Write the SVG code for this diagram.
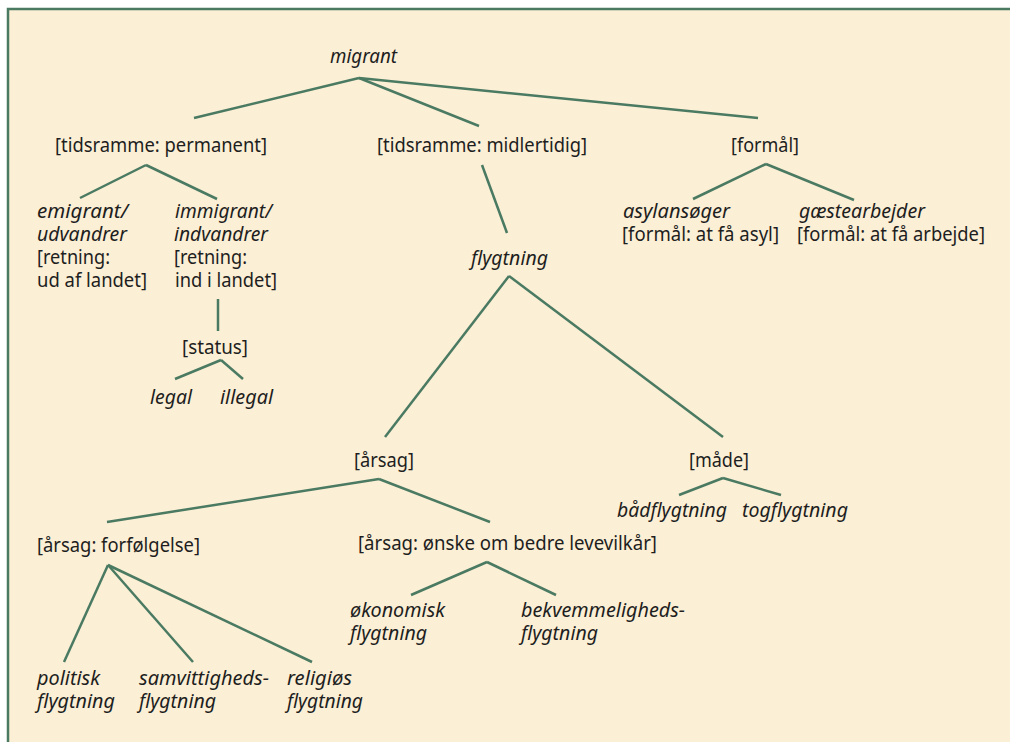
<svg xmlns="http://www.w3.org/2000/svg" width="1010" height="742" viewBox="0 0 1010 742">
<style>
text{font-family:"Noto Sans","Open Sans","DejaVu Sans",sans-serif;font-size:20px;fill:#1e1e1e}
.i{font-style:italic}
.c line{stroke:#4a7a62;stroke-width:2.5;stroke-linecap:butt}
</style>
<rect x="0" y="0" width="1010" height="742" fill="#ffffff"/>
<rect x="8" y="9" width="1010" height="740" fill="#fbefd5" stroke="#4a7a62" stroke-width="2.5"/>
<g class="c" id="connectors">
<line x1="359" y1="78" x2="194" y2="118"/>
<line x1="359" y1="78" x2="479" y2="126"/>
<line x1="359" y1="78" x2="758" y2="118"/>
<line x1="146" y1="165" x2="80" y2="198"/>
<line x1="146" y1="165" x2="217" y2="199"/>
<line x1="218" y1="299" x2="218" y2="331"/>
<line x1="221" y1="360" x2="175" y2="379"/>
<line x1="221" y1="360" x2="243" y2="379"/>
<line x1="482" y1="165" x2="507" y2="233"/>
<line x1="766" y1="164" x2="693" y2="199"/>
<line x1="766" y1="164" x2="854" y2="200"/>
<line x1="509" y1="276" x2="385" y2="437"/>
<line x1="509" y1="276" x2="723" y2="437"/>
<line x1="379" y1="479" x2="107" y2="522"/>
<line x1="379" y1="479" x2="490" y2="522"/>
<line x1="723" y1="478" x2="679" y2="495"/>
<line x1="723" y1="478" x2="781" y2="495"/>
<line x1="108" y1="565" x2="64" y2="662"/>
<line x1="108" y1="565" x2="193" y2="662"/>
<line x1="108" y1="565" x2="312" y2="662"/>
<line x1="487" y1="562" x2="411" y2="595"/>
<line x1="487" y1="562" x2="556" y2="595"/>
</g>
<g id="migrant"><text class="i" x="330" y="63" textLength="67" lengthAdjust="spacingAndGlyphs">migrant</text></g>
<g id="permanent"><text x="55" y="152" textLength="212" lengthAdjust="spacingAndGlyphs">[tidsramme: permanent]</text></g>
<g id="midlertidig"><text x="377" y="152" textLength="210" lengthAdjust="spacingAndGlyphs">[tidsramme: midlertidig]</text></g>
<g id="formaal"><text x="731" y="152" textLength="68" lengthAdjust="spacingAndGlyphs">[formål]</text></g>
<g id="emigrant">
<text class="i" x="37" y="218" textLength="91" lengthAdjust="spacingAndGlyphs">emigrant/</text>
<text class="i" x="37" y="241" textLength="90" lengthAdjust="spacingAndGlyphs">udvandrer</text>
<text x="37" y="264" textLength="73" lengthAdjust="spacingAndGlyphs">[retning:</text>
<text x="37" y="287" textLength="110" lengthAdjust="spacingAndGlyphs">ud af landet]</text>
</g>
<g id="immigrant">
<text class="i" x="175" y="218" textLength="97" lengthAdjust="spacingAndGlyphs">immigrant/</text>
<text class="i" x="174" y="241" textLength="94" lengthAdjust="spacingAndGlyphs">indvandrer</text>
<text x="174" y="264" textLength="73" lengthAdjust="spacingAndGlyphs">[retning:</text>
<text x="175" y="287" textLength="102" lengthAdjust="spacingAndGlyphs">ind i landet]</text>
</g>
<g id="status"><text x="182" y="354" textLength="66" lengthAdjust="spacingAndGlyphs">[status]</text></g>
<g id="legal"><text class="i" x="150" y="404" textLength="42" lengthAdjust="spacingAndGlyphs">legal</text></g>
<g id="illegal"><text class="i" x="220" y="404" textLength="53" lengthAdjust="spacingAndGlyphs">illegal</text></g>
<g id="asyl">
<text class="i" x="623" y="218" textLength="107" lengthAdjust="spacingAndGlyphs">asylansøger</text>
<text x="622" y="241" textLength="157" lengthAdjust="spacingAndGlyphs">[formål: at få asyl]</text>
</g>
<g id="gaest">
<text class="i" x="799" y="218" textLength="126" lengthAdjust="spacingAndGlyphs">gæstearbejder</text>
<text x="797" y="241" textLength="188" lengthAdjust="spacingAndGlyphs">[formål: at få arbejde]</text>
</g>
<g id="flygtning"><text class="i" x="471" y="265" textLength="77" lengthAdjust="spacingAndGlyphs">flygtning</text></g>
<g id="aarsag"><text x="354" y="467" textLength="60" lengthAdjust="spacingAndGlyphs">[årsag]</text></g>
<g id="maade"><text x="689" y="467" textLength="60" lengthAdjust="spacingAndGlyphs">[måde]</text></g>
<g id="baad"><text class="i" x="617" y="517" textLength="110" lengthAdjust="spacingAndGlyphs">bådflygtning</text></g>
<g id="tog"><text class="i" x="742" y="517" textLength="106" lengthAdjust="spacingAndGlyphs">togflygtning</text></g>
<g id="forfoelgelse"><text x="37" y="552" textLength="163" lengthAdjust="spacingAndGlyphs">[årsag: forfølgelse]</text></g>
<g id="levevilkaar"><text x="358" y="550" textLength="299" lengthAdjust="spacingAndGlyphs">[årsag: ønske om bedre levevilkår]</text></g>
<g id="oekonomisk">
<text class="i" x="350" y="617" textLength="95" lengthAdjust="spacingAndGlyphs">økonomisk</text>
<text class="i" x="350" y="640" textLength="77" lengthAdjust="spacingAndGlyphs">flygtning</text>
</g>
<g id="bekvem">
<text class="i" x="521" y="617" textLength="164" lengthAdjust="spacingAndGlyphs">bekvemmeligheds-</text>
<text class="i" x="521" y="640" textLength="77" lengthAdjust="spacingAndGlyphs">flygtning</text>
</g>
<g id="politisk">
<text class="i" x="37" y="685" textLength="63" lengthAdjust="spacingAndGlyphs">politisk</text>
<text class="i" x="37" y="708" textLength="78" lengthAdjust="spacingAndGlyphs">flygtning</text>
</g>
<g id="samvittighed">
<text class="i" x="139" y="685" textLength="130" lengthAdjust="spacingAndGlyphs">samvittigheds-</text>
<text class="i" x="139" y="708" textLength="77" lengthAdjust="spacingAndGlyphs">flygtning</text>
</g>
<g id="religioes">
<text class="i" x="287" y="685" textLength="65" lengthAdjust="spacingAndGlyphs">religiøs</text>
<text class="i" x="287" y="708" textLength="76" lengthAdjust="spacingAndGlyphs">flygtning</text>
</g>
</svg>
